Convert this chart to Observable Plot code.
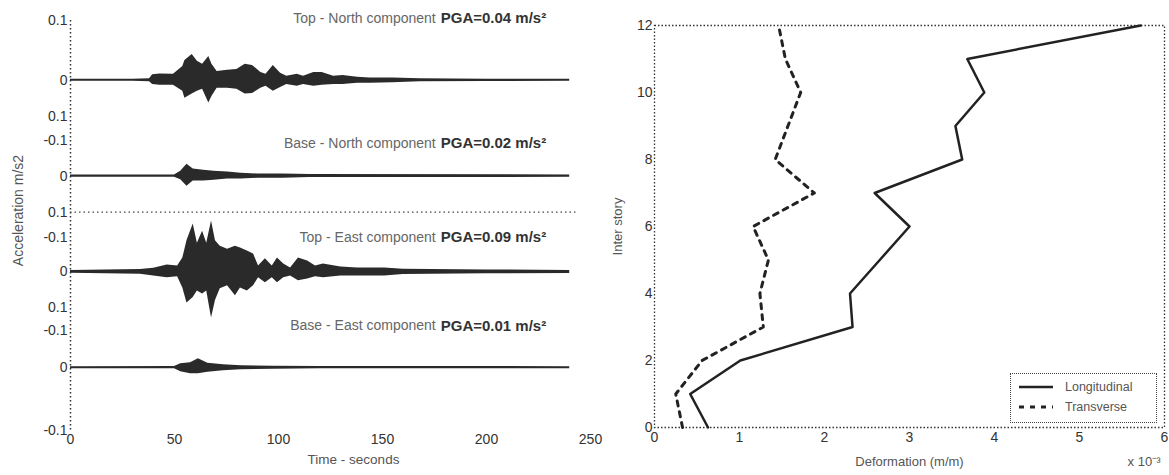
<!DOCTYPE html>
<html>
<head>
<meta charset="utf-8">
<script src="https://cdn.jsdelivr.net/npm/d3@7"></script>
<script src="https://cdn.jsdelivr.net/npm/@observablehq/plot@0.6"></script>
<style>
  html, body { margin: 0; padding: 0; background: #fff; }
  #wrap { position: relative; width: 1169px; height: 475px; display: flex; font-family: "Liberation Sans", Arial, sans-serif; overflow: hidden; }
  #left svg { overflow: visible; }
  #legend { position: absolute; left: 1010px; top: 373px; width: 145px; height: 48px; border: 1px dotted #444; background: #fff; font-size: 12.5px; color: #555; }
  #legend .row { position: absolute; left: 6px; display: flex; align-items: center; }
  #legend svg { margin-right: 10px; }
</style>
</head>
<body>
<div id="wrap"><div id="left"></div><div id="right"></div>
<div id="legend">
  <div class="row" style="top:6px"><svg width="38" height="10"><line x1="2" y1="5" x2="36" y2="5" stroke="#222" stroke-width="2.5"/></svg>Longitudinal</div>
  <div class="row" style="top:26px"><svg width="38" height="10"><line x1="2" y1="5" x2="36" y2="5" stroke="#222" stroke-width="3" stroke-dasharray="5,6"/></svg>Transverse</div>
</div>
</div>
<script>
// ---------- Left panel: acceleration records (envelopes, m/s²) ----------
const traceNames = ["Top - North component", "Base - North component", "Top - East component", "Base - East component"];
const pgaTexts = ["PGA=0.04 m/s²", "PGA=0.02 m/s²", "PGA=0.09 m/s²", "PGA=0.01 m/s²"];

const tTopNorth = [0,30,38,39.5,43,49.5,54,55,58.5,61,63.5,66.5,68,70.5,75.5,80,84,87.5,91.5,94,97.5,101,104,109,112,117,121,126.5,131,138,144,155,168,200,240];
const upTopNorth = [0.0017,0.0017,0.0025,0.0095,0.0105,0.010,0.023,0.033,0.043,0.032,0.027,0.040,0.027,0.015,0.017,0.018,0.027,0.025,0.013,0.010,0.025,0.012,0.007,0.010,0.007,0.013,0.013,0.007,0.008,0.005,0.004,0.004,0.0025,0.002,0.0017];
const loTopNorth = [0.0017,0.0017,0.0025,0.007,0.008,0.008,0.018,0.030,0.023,0.018,0.015,0.038,0.027,0.013,0.013,0.015,0.023,0.022,0.013,0.010,0.018,0.012,0.007,0.010,0.007,0.010,0.008,0.007,0.007,0.005,0.005,0.004,0.0025,0.002,0.0017];

const tBaseNorth = [0,50,53,56,59,64,69,75.5,82,90,102,115,240];
const upBaseNorth = [0.0017,0.002,0.008,0.020,0.012,0.010,0.008,0.007,0.005,0.0035,0.0035,0.0025,0.002];
const loBaseNorth = [0.0017,0.002,0.006,0.017,0.008,0.008,0.007,0.005,0.005,0.0035,0.0035,0.0025,0.002];

const tTopEast = [0,33.6,40,46.5,51.5,54,56,59,61,63.5,65.5,67.8,69.7,72,75.5,79.3,81.7,85,88,90.4,93.7,97,99.5,102.5,105.8,109.6,114,117.8,121.6,130,138,144,151,160,200,240];
const upTopEast = [0.0022,0.0038,0.0062,0.0117,0.010,0.023,0.052,0.080,0.048,0.068,0.048,0.085,0.052,0.043,0.038,0.043,0.040,0.035,0.030,0.010,0.022,0.010,0.023,0.013,0.0067,0.023,0.018,0.010,0.013,0.0083,0.0067,0.0067,0.0067,0.0042,0.0033,0.0025];
const loTopEast = [0.0022,0.0038,0.0067,0.010,0.0083,0.027,0.052,0.043,0.032,0.037,0.032,0.077,0.048,0.028,0.023,0.040,0.027,0.032,0.023,0.010,0.018,0.010,0.018,0.010,0.0067,0.015,0.012,0.0083,0.010,0.0067,0.0067,0.0067,0.0067,0.0042,0.0033,0.0025];

const tBaseEast = [0,50,53,57.7,61.5,66,73.5,82,97.6,120,240];
const upBaseEast = [0.0017,0.002,0.0067,0.0083,0.015,0.0075,0.005,0.0033,0.0025,0.002,0.0017];
const loBaseEast = [0.0017,0.002,0.0067,0.010,0.010,0.0075,0.005,0.0033,0.0025,0.002,0.0017];

// vertical stacking of the four records (m/s² units of the shared y scale)
const traceOffsets = [0.48, 0.32, 0.16, 0];
const labelLevels = [0.104, 0.055, 0.058, 0.07];
const labelTime = 178;
const subplotDivider = 0.26;

const timeTicks = [0, 50, 100, 150, 200, 250];
const accTickPos = [0.58, 0.48, 0.42, 0.38, 0.32, 0.26, 0.217, 0.16, 0.10, 0.062, 0, -0.105];
const accTickText = ["0.1", "0", "0.1", "-0.1", "0", "0.1", "-0.1", "0", "0.1", "-0.1", "0", "-0.1"];

// ---------- Right panel: inter-story deformation ----------
const stories = [0,1,2,3,4,5,6,7,8,9,10,11,12];
const longitudinal = [0.63,0.42,1.01,2.33,2.30,2.65,3.00,2.59,3.62,3.54,3.88,3.68,5.72];
const transverse = [0.33,0.25,0.56,1.28,1.24,1.34,1.16,1.88,1.42,1.57,1.72,1.54,1.46];
const deformTicks = [0,1,2,3,4,5,6];
const storyTicks = [0,2,4,6,8,10,12];

// build tables
const traces = [
  [tTopNorth, upTopNorth, loTopNorth],
  [tBaseNorth, upBaseNorth, loBaseNorth],
  [tTopEast, upTopEast, loTopEast],
  [tBaseEast, upBaseEast, loBaseEast]
];
const envRows = [];
traces.forEach(([ts, up, lo], k) => {
  ts.forEach((t, i) => envRows.push({trace: traceNames[k], t, hi: traceOffsets[k] + up[i], lo: traceOffsets[k] - lo[i]}));
});
const annRows = traceNames.map((name, k) => ({t: labelTime, y: traceOffsets[k] + labelLevels[k], desc: name, pga: pgaTexts[k]}));

const font = "Liberation Sans, Arial, sans-serif";

const left = Plot.plot({
  width: 600, height: 475,
  marginLeft: 70, marginRight: 10, marginTop: 20, marginBottom: 45,
  style: {fontFamily: font, fontSize: "14px", color: "#333", background: "transparent"},
  x: {domain: [0, 250]},
  y: {domain: [-0.105, 0.58]},
  marks: [
    Plot.ruleX([0], {stroke: "#333", strokeWidth: 1.5, strokeDasharray: "1.5,2.5"}),
    Plot.ruleY([subplotDivider], {x1: 0, x2: 243, stroke: "#444", strokeWidth: 1.2, strokeDasharray: "1.5,3"}),
    Plot.areaY(envRows, {x: "t", y1: "lo", y2: "hi", z: "trace", fill: "#2a2a2a", curve: "linear"}),
    Plot.axisX({ticks: timeTicks, tickSize: 0, tickPadding: 4, label: null, fontSize: 14}),
    Plot.axisY({ticks: accTickPos, tickFormat: (d, i) => accTickText[i], tickSize: 0, tickPadding: 3, label: null, fontSize: 14}),
    Plot.text(["Time - seconds"], {frameAnchor: "bottom", dx: 23, dy: 33, fontSize: 13.5, fill: "#555"}),
    Plot.text(["Acceleration m/s2"], {frameAnchor: "left", textAnchor: "middle", rotate: -90, dx: -52, dy: -15, fontSize: 14, fill: "#555"}),
    Plot.text(annRows, {x: "t", y: "y", text: "desc", textAnchor: "end", dx: -5, fontSize: 14, fill: "#666"}),
    Plot.text(annRows, {x: "t", y: "y", text: "pga", textAnchor: "start", fontSize: 15, fontWeight: "bold", fill: "#333"})
  ]
});
document.getElementById("left").append(left);

const profRows = stories.flatMap((s, i) => [
  {story: s, value: longitudinal[i], kind: "Longitudinal"},
  {story: s, value: transverse[i], kind: "Transverse"}
]);

const right = Plot.plot({
  width: 569, height: 475,
  marginLeft: 54, marginRight: 5, marginTop: 25, marginBottom: 48,
  style: {fontFamily: font, fontSize: "14px", color: "#333", background: "transparent"},
  x: {domain: [0, 6]},
  y: {domain: [0, 12]},
  marks: [
    Plot.frame({stroke: "#333", strokeWidth: 1.3, strokeDasharray: "1.5,2"}),
    Plot.line(profRows.filter(d => d.kind === "Longitudinal"), {x: "value", y: "story", stroke: "#222", strokeWidth: 2.5}),
    Plot.line(profRows.filter(d => d.kind === "Transverse"), {x: "value", y: "story", stroke: "#222", strokeWidth: 3, strokeDasharray: "5,6"}),
    Plot.axisX({ticks: deformTicks, tickFormat: d3.format("d"), tickSize: 0, tickPadding: 5, label: null, fontSize: 14}),
    Plot.axisY({ticks: storyTicks, tickFormat: d3.format("d"), tickSize: 0, tickPadding: 2, label: null, fontSize: 14}),
    Plot.text(["Deformation (m/m)"], {frameAnchor: "bottom", dy: 38, fontSize: 13, fill: "#555"}),
    Plot.text(["Inter story"], {frameAnchor: "left", textAnchor: "middle", rotate: -90, dx: -37, fontSize: 13, fill: "#555"}),
    Plot.text(["x 10⁻³"], {frameAnchor: "bottom-right", textAnchor: "end", dx: -4, dy: 38, fontSize: 13, fill: "#555"})
  ]
});
document.getElementById("right").append(right);
</script>
</body>
</html>
